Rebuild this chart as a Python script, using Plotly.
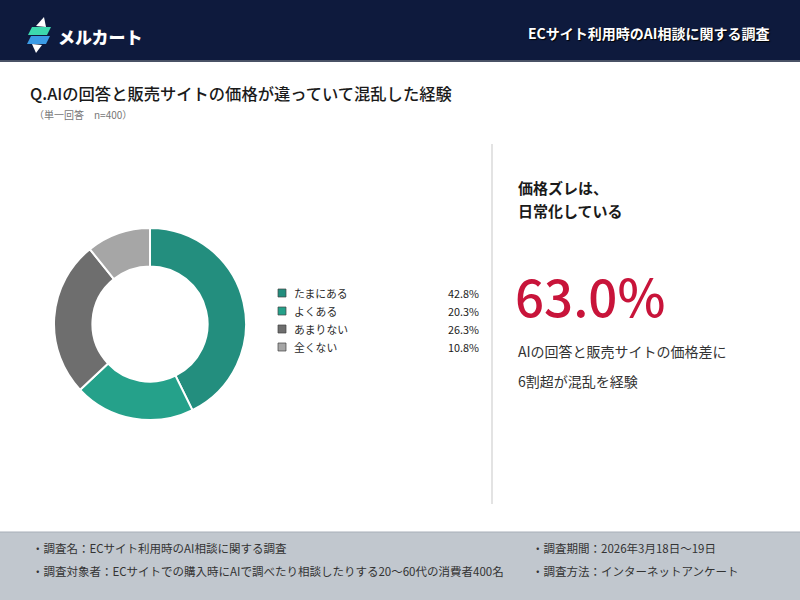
import plotly.graph_objects as go

W, H = 800, 600
FONT = "Noto Sans CJK JP"

# data
labels = ["たまにある", "よくある", "あまりない", "全くない"]
values = [42.8, 20.3, 26.3, 10.8]
colors = ["#238E7E", "#25A18A", "#6E6E6E", "#A6A6A6"]

header_title = "ECサイト利用時のAI相談に関する調査"
question = "Q.AIの回答と販売サイトの価格が違っていて混乱した経験"
question_note = "（単一回答　n=400）"
headline = ["価格ズレは、", "日常化している"]
key_figure = "63.0%"
key_caption = ["AIの回答と販売サイトの価格差に", "6割超が混乱を経験"]
footer_left = [
    "・調査名：ECサイト利用時のAI相談に関する調査",
    "・調査対象者：ECサイトでの購入時にAIで調べたり相談したりする20〜60代の消費者400名",
]
footer_right = ["・調査期間：2026年3月18日〜19日", "・調査方法：インターネットアンケート"]


def px(x):
    return x / W


def py(y):
    return 1 - y / H


def note(x, y, text, size, color="#222222", anchor="left", weight="normal", **kw):
    return dict(
        x=px(x), y=py(y), xref="paper", yref="paper", text=text, showarrow=False,
        xanchor=anchor, yanchor="middle",
        font=dict(family=FONT, size=size, color=color, weight=weight, **kw),
    )


# donut: centre (150, 324), radius 96
cx, cy, r = 150, 324, 96
fig = go.Figure(
    go.Pie(
        labels=labels,
        values=values,
        hole=0.6,
        sort=False,
        direction="clockwise",
        rotation=0,
        marker=dict(colors=colors, line=dict(color="#FFFFFF", width=2)),
        textinfo="none",
        hoverinfo="label+percent",
        showlegend=False,
        domain=dict(x=[px(cx - r), px(cx + r)], y=[py(cy + r), py(cy - r)]),
    )
)

shapes = [
    # header band
    dict(type="rect", xref="paper", yref="paper", x0=0, x1=1, y0=py(60), y1=1,
         fillcolor="#0E1A3D", line_width=0, layer="below"),
    dict(type="rect", xref="paper", yref="paper", x0=0, x1=1, y0=py(62), y1=py(60),
         fillcolor="#4A5266", line_width=0, layer="below"),
    # footer band
    dict(type="rect", xref="paper", yref="paper", x0=0, x1=1, y0=0, y1=py(532),
         fillcolor="#C1C7CE", line_width=0, layer="below"),
    dict(type="line", xref="paper", yref="paper", x0=0, x1=1, y0=py(532), y1=py(532),
         line=dict(color="#A8AFB8", width=1)),
    # divider
    dict(type="line", xref="paper", yref="paper", x0=px(492), x1=px(492), y0=py(144), y1=py(504),
         line=dict(color="#DADADA", width=1.5)),
    # logo
    dict(type="path", xref="paper", yref="paper",
         path=f"M {px(36)} {py(26)} L {px(44)} {py(17)} L {px(46)} {py(27)} Z",
         fillcolor="#FFFFFF", line_width=0),
    dict(type="path", xref="paper", yref="paper",
         path=f"M {px(32)} {py(27)} L {px(51)} {py(27)} L {px(47)} {py(35)} L {px(28)} {py(35)} Z",
         fillcolor="#3DD9AE", line_width=0),
    dict(type="path", xref="paper", yref="paper",
         path=f"M {px(31)} {py(36)} L {px(50)} {py(36)} L {px(46)} {py(44)} L {px(27)} {py(44)} Z",
         fillcolor="#3B9BE6", line_width=0),
    dict(type="path", xref="paper", yref="paper",
         path=f"M {px(32)} {py(44)} L {px(42)} {py(45)} L {px(36)} {py(53)} Z",
         fillcolor="#FFFFFF", line_width=0),
]

annotations = [
    note(56, 36, "メルカート", 17, "#FFFFFF", weight=900),
    note(771, 33, header_title, 14, "#FFFFFF", anchor="right", weight="bold",
         shadow="1px 1px 1px #000000"),
    note(28, 93, question, 16.3, "#1A1A1A", weight=500),
    note(32, 115, question_note, 10, "#777777"),
    note(516, 187, headline[0], 15, "#1A1A1A", weight="bold"),
    note(516, 210, headline[1], 15, "#1A1A1A", weight="bold"),
    note(513, 295, key_figure, 51, "#C8143A", weight=500),
    note(516, 351, key_caption[0], 14, "#333333"),
    note(516, 381, key_caption[1], 14, "#333333"),
]

# legend with values
for i, (lab, val, col) in enumerate(zip(labels, values, colors)):
    y = 293 + 18 * i
    shapes.append(dict(type="rect", xref="paper", yref="paper",
                       x0=px(278), x1=px(286), y0=py(y + 4), y1=py(y - 4),
                       fillcolor=col, line=dict(color="#444444", width=0.7)))
    annotations.append(note(292, y, lab, 10.8, "#2A2A2A"))
    annotations.append(note(481, y, f"{val:.1f}%", 10.8, "#1A1A1A", anchor="right"))

for i, t in enumerate(footer_left):
    annotations.append(note(30, 548 + 23 * i, t, 11.5, "#333333"))
for i, t in enumerate(footer_right):
    annotations.append(note(530, 548 + 23 * i, t, 11.5, "#333333"))

fig.update_layout(
    width=W,
    height=H,
    margin=dict(l=0, r=0, t=0, b=0),
    paper_bgcolor="#FFFFFF",
    plot_bgcolor="#FFFFFF",
    font=dict(family=FONT),
    shapes=shapes,
    annotations=annotations,
)

fig.write_html(
    "out.html",
    config={"displayModeBar": False},
    post_script="document.body.style.margin='0';",
)
